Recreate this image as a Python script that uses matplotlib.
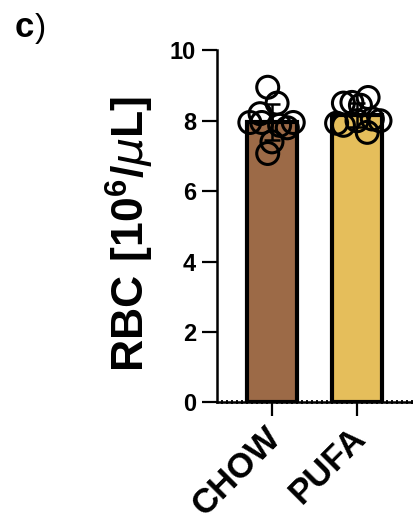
import numpy as np
import matplotlib
matplotlib.use("Agg")
import matplotlib.pyplot as plt
from matplotlib.ticker import MultipleLocator

plt.rcParams["font.family"] = ["Liberation Sans", "DejaVu Sans"]
plt.rcParams["mathtext.fontset"] = "custom"
plt.rcParams["mathtext.rm"] = "Liberation Sans"
plt.rcParams["mathtext.bf"] = "Liberation Sans:bold"

# Data
groups = ["CHOW", "PUFA"]
chow_values = [8.95, 8.5, 8.2, 7.95, 7.95, 7.87, 7.4, 7.07, 7.8, 7.95]
pufa_values = [8.5, 8.52, 8.66, 8.44, 7.93, 8.0, 7.87, 7.67, 8.0, 8.05]
bar_colors = ["#9C6A47", "#E5BE5B"]
y_ticks = [0, 2, 4, 6, 8, 10]

# horizontal jitter of the scatter points (layout only)
chow_jitter = [-0.05, 0.06, -0.14, -0.26, 0.25, 0.09, 0.0, -0.05, 0.18, -0.12]
pufa_jitter = [-0.16, -0.06, 0.13, 0.04, -0.24, 0.27, -0.16, 0.12, 0.0, 0.18]

values = [chow_values, pufa_values]
jitters = [chow_jitter, pufa_jitter]

fig = plt.figure(figsize=(4.14, 5.24), dpi=100)
ax = fig.add_axes([0.524, 0.232, 0.474, 0.672])

for i, (vals, jit) in enumerate(zip(values, jitters)):
    vals = np.array(vals)
    mean = vals.mean()
    sd = vals.std(ddof=1)
    ax.bar(i, mean, width=0.58, color=bar_colors[i], edgecolor="black",
           linewidth=3, zorder=2)
    ax.errorbar(i, mean, yerr=sd, color="black", capsize=6, capthick=1.8,
                elinewidth=1.8, zorder=3)
    ax.scatter(i + np.array(jit), vals, s=250, facecolors="none",
               edgecolors="black", linewidths=2.2, zorder=4, clip_on=False)

ax.set_xlim(-0.647, 1.66)
ax.set_ylim(0, 10)
ax.set_yticks(y_ticks)
ax.set_yticklabels([str(t) for t in y_ticks], fontsize=17, fontweight="bold")
ax.set_xticks(range(len(groups)))
ax.set_xticklabels([])
ax.xaxis.set_minor_locator(MultipleLocator(0.059))

# rotated group labels, set a bit left of each tick
for i, g in enumerate(groups):
    ax.annotate(g, xy=(i, 0), xycoords=("data", "axes fraction"),
                xytext=(-6, -13), textcoords="offset points",
                rotation=45, ha="right", va="top", rotation_mode="anchor",
                fontsize=25, fontweight="bold", annotation_clip=False)

ax.tick_params(axis="y", length=11, width=1.6, pad=4)
ax.tick_params(axis="x", which="major", length=10, width=1.6)
ax.tick_params(axis="x", which="minor", length=3, width=1.3, direction="inout")

for side in ["top", "right"]:
    ax.spines[side].set_visible(False)
for side in ["left", "bottom"]:
    ax.spines[side].set_linewidth(1.8)

ax.set_ylabel(r"$\mathbf{RBC\ [10^{6}/}\mu\mathbf{L]}$", fontsize=32)
ax.yaxis.set_label_coords(-0.31, 0.48)

fig.text(0.035, 0.93, "c", fontsize=25, fontweight="bold")
fig.text(0.083, 0.93, ")", fontsize=24)

fig.savefig("out.png", dpi=100)
